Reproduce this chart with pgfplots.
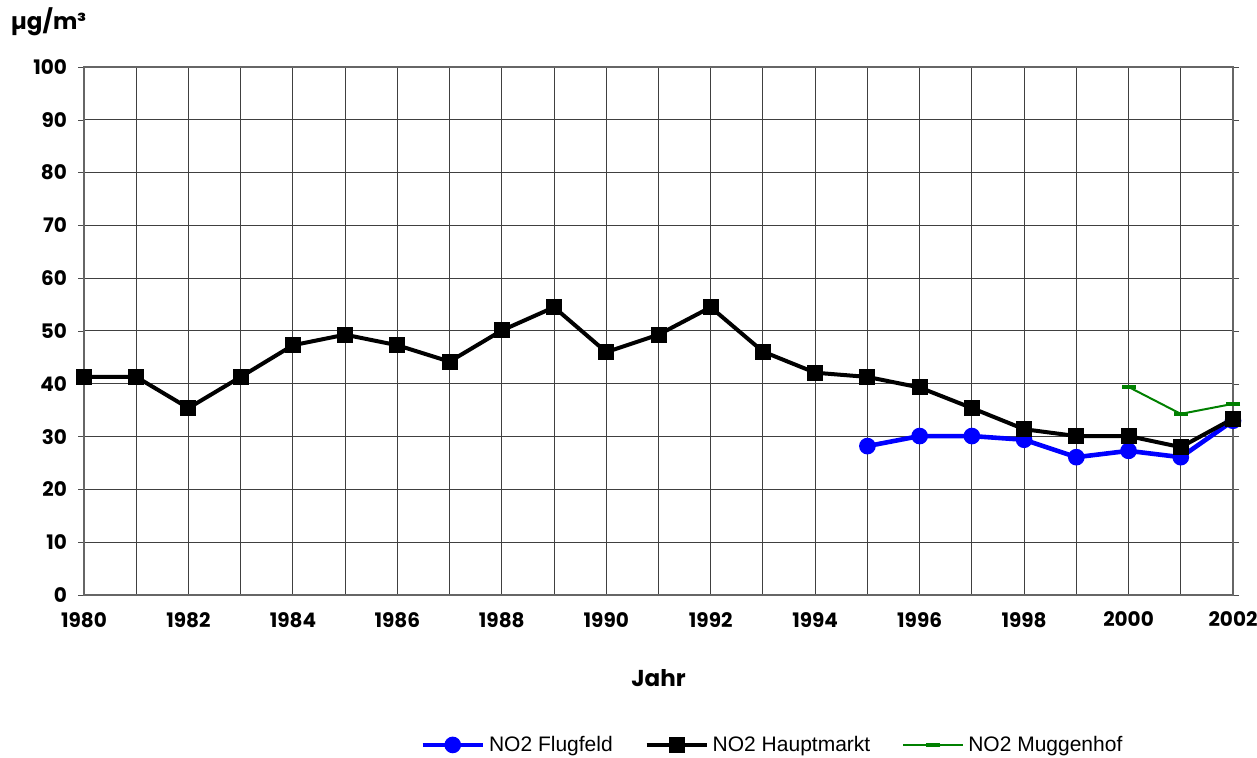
\documentclass[border=0pt]{standalone}
\usepackage{fontspec}
\setmainfont{Poppins}
\newfontfamily\legfont{Liberation Sans}
\usepackage{pgfplots}
\pgfplotsset{compat=1.18}
\definecolor{nblue}{RGB}{0,0,255}
\definecolor{ngreen}{RGB}{0,128,0}
\begin{document}
\begin{tikzpicture}
\useasboundingbox (-42pt,-81.5pt) rectangle (586.5pt,297.5pt);
\begin{axis}[
  scale only axis, width=574.5pt, height=264pt,
  xmin=1980, xmax=2002, ymin=0, ymax=100,
  xtick={1980,1982,...,2002}, minor xtick={1981,1983,...,2001},
  ytick={0,10,...,100},
  grid=both,
  major grid style={black!75, line width=0.5pt},
  minor grid style={black!75, line width=0.5pt},
  axis line style={black!60, line width=0.6pt},
  tick align=outside, major tick length=3pt, minor tick length=0pt,
  xtick style={draw=none},
  ytick style={black!70},
  /pgf/number format/1000 sep={},
  /pgf/number format/assume math mode=true,
  tick label style={font=\bfseries\fontsize{10}{12}\selectfont},
  xticklabel style={yshift=-2pt},
  yticklabel style={xshift=-2pt},
  clip=false,
  legend columns=3,
  legend style={at={(rel axis cs:0.60,-0.284)}, anchor=center, draw=none, fill=none,
    font=\legfont\fontsize{10.5}{12}\selectfont, /tikz/every even column/.append style={column sep=14pt}},
  legend cell align=left,
  legend image code/.code={\draw[mark repeat=2,mark phase=2,#1] plot coordinates {(0pt,0pt)(15pt,0pt)(30pt,0pt)};},
]
\addplot[nblue, line width=2.3pt, mark=*, mark size=3pt] coordinates {
(1995,28.2) (1996,30.1) (1997,30.1) (1998,29.4) (1999,26.1) (2000,27.3) (2001,26.1) (2002,33.0)};
\addlegendentry{NO2 Flugfeld}
\addplot[black, line width=2pt, mark=square*, mark size=3pt] coordinates {
(1980,41.3) (1981,41.3) (1982,35.4) (1983,41.3) (1984,47.3) (1985,49.3) (1986,47.3) (1987,44.2)
(1988,50.1) (1989,54.5) (1990,46.0) (1991,49.3) (1992,54.5) (1993,46.1) (1994,42.1) (1995,41.3)
(1996,39.3) (1997,35.4) (1998,31.4) (1999,30.1) (2000,30.1) (2001,28.0) (2002,33.4)};
\addlegendentry{NO2 Hauptmarkt}
\addplot[ngreen, line width=1pt, mark=-, mark size=3.5pt, mark options={line width=2pt}] coordinates {
(2000,39.4) (2001,34.3) (2002,36.2)};
\addlegendentry{NO2 Muggenhof}
\node[font=\bfseries\fontsize{11.5}{13}\selectfont] at (rel axis cs:-0.031,1.085) {µg/m³};
\node[font=\bfseries\fontsize{11.5}{13}\selectfont] at (rel axis cs:0.5,-0.157) {Jahr};
\end{axis}
\end{tikzpicture}
\end{document}
